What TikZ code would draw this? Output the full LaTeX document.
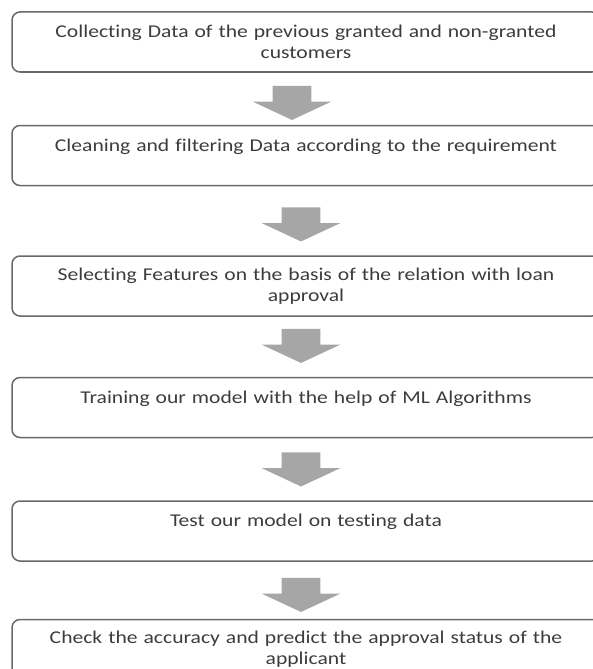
\documentclass[tikz,border=0pt]{standalone}
\usepackage{fontspec}
\setmainfont{Carlito}[FakeStretch=1.2, Ligatures=NoCommon]
\usetikzlibrary{shapes,arrows,positioning}
\definecolor{boxline}{RGB}{105,105,105}
\definecolor{arrowgray}{RGB}{166,166,166}
\definecolor{textgray}{RGB}{60,60,60}
\tikzstyle{block} = [rectangle, draw=boxline, line width=1.5pt, rounded corners=8pt,
    text width=575pt, align=center, minimum width=588pt, minimum height=60pt,
    inner sep=0pt, text=textgray, font=\fontsize{18}{21}\selectfont]
\tikzstyle{bigarrow} = [single arrow, fill=arrowgray, shape border rotate=270,
    minimum height=34pt, minimum width=79pt, single arrow head extend=20pt,
    single arrow tip angle=130, inner xsep=19pt, inner ysep=0pt]

\begin{document}
\begin{tikzpicture}[x=1pt,y=1pt]
		\useasboundingbox (0,0) rectangle (593,-669);
		\clip (0,0) rectangle (593,-669);
		% Draw nodes
		\node [block] (collect) at (306,-42) {Collecting Data of the previous granted and non-granted\\customers};
		\node [block, below=52pt of collect] (clean) {Cleaning and filtering Data according to the requirement\\~};
		\node [block, below=69pt of clean] (select) {Selecting Features on the basis of the relation with loan\\approval};
		\node [block, below=60pt of select] (train) {Training our model with the help of ML Algorithms\\~};
		\node [block, below=62pt of train] (test) {Test our model on testing data\\~};
		\node [block, below=57pt of test] (check) {Check the accuracy and predict the approval status of the\\applicant};
		% Draw block arrows
		\node [bigarrow, below=13pt of collect, xshift=-14pt] (arrow1) {};
		\node [bigarrow, below=21pt of clean, xshift=-5pt] (arrow2) {};
		\node [bigarrow, below=12pt of select, xshift=-5pt] (arrow3) {};
		\node [bigarrow, below=14pt of train, xshift=-5pt] (arrow4) {};
		\node [bigarrow, below=16pt of test, xshift=-5pt] (arrow5) {};
	\end{tikzpicture}
\end{document}
